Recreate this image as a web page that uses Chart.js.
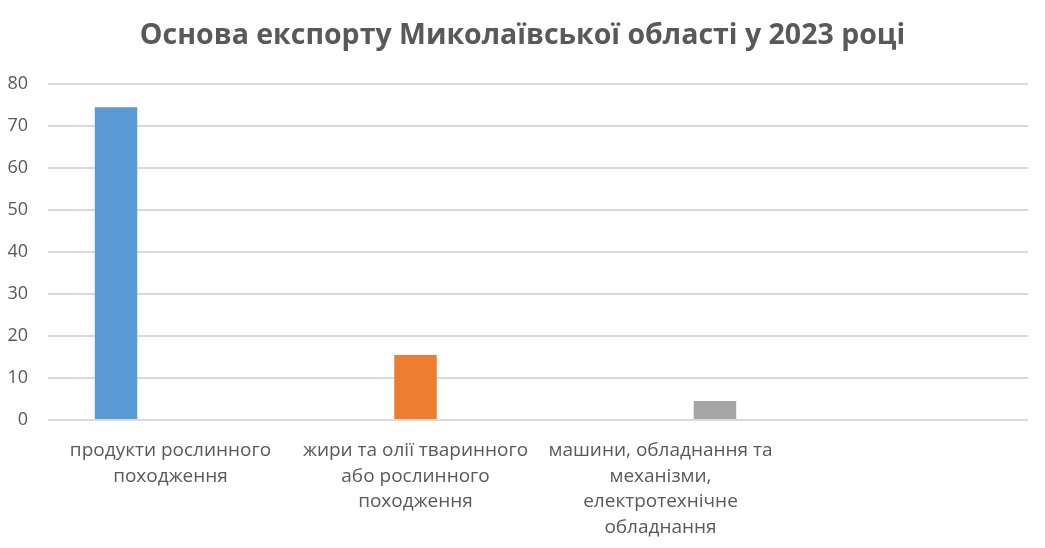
<!DOCTYPE html>
<html>
<head>
<meta charset="utf-8">
<script src="https://cdn.jsdelivr.net/npm/chart.js@4"></script>
<style>
  html, body { margin: 0; padding: 0; background: #fff; }
  #wrap { width: 1045px; height: 548px; }
</style>
</head>
<body>
<div id="wrap"><canvas id="exportChart"></canvas></div>
<script>
// categories (4th slot is empty in the original sheet)
const categories = [
    ['продукти рослинного', 'походження'],
    ['жири та олії тваринного', 'або рослинного', 'походження'],
    ['машини, обладнання та', 'механізми,', 'електротехнічне', 'обладнання'],
    ''
];

// one series per product group, each filled in its own category only
const plantProducts = [74.5, null, null, null];
const fatsOils = [null, 15.5, null, null];
const machinery = [null, null, 4.5, null];

const yTicks = [0, 10, 20, 30, 40, 50, 60, 70, 80];

const textColor = '#595959';
const fontFamily = '"Open Sans", "Noto Sans", sans-serif';

const ctx = document.getElementById('exportChart').getContext('2d');
new Chart(ctx, {
    type: 'bar',
    data: {
        labels: categories,
        datasets: [
            { label: 'продукти рослинного походження', data: plantProducts, backgroundColor: '#5B9BD5' },
            { label: 'жири та олії', data: fatsOils, backgroundColor: '#ED7D31' },
            { label: 'машини', data: machinery, backgroundColor: '#A5A5A5' }
        ]
    },
    options: {
        responsive: true,
        maintainAspectRatio: false,
        animation: false,
        barPercentage: 0.78,
        categoryPercentage: 0.667,
        layout: { padding: 0 },
        plugins: {
            legend: { display: false },
            tooltip: { enabled: false },
            title: {
                display: true,
                text: 'Основа експорту Миколаївської області у 2023 році',
                color: textColor,
                font: { family: fontFamily, size: 28.5, weight: 'bold' },
                padding: { top: 19, bottom: 31 }
            }
        },
        scales: {
            x: {
                grid: { display: false, drawTicks: false },
                border: { display: false },
                ticks: {
                    color: textColor,
                    font: { family: fontFamily, size: 19, lineHeight: 1.34 },
                    padding: 18,
                    maxRotation: 0,
                    autoSkip: false
                },
                afterFit: function (scale) { scale.height = 128; }
            },
            y: {
                min: 0,
                max: 80,
                afterBuildTicks: function (scale) {
                    scale.ticks = yTicks.map(v => ({ value: v }));
                },
                grid: { color: '#D9D9D9', lineWidth: 2, drawTicks: false },
                border: { display: false },
                ticks: {
                    color: textColor,
                    font: { family: fontFamily, size: 18 },
                    padding: 20
                },
                afterFit: function (scale) { scale.width = 48; }
            },
            // empty strip on the right so the plot ends where the original does
            yRight: {
                position: 'right',
                min: 0,
                max: 80,
                grid: { display: false, drawTicks: false },
                border: { display: false },
                ticks: { display: false },
                afterFit: function (scale) { scale.width = 17; }
            }
        }
    }
});
</script>
</body>
</html>
